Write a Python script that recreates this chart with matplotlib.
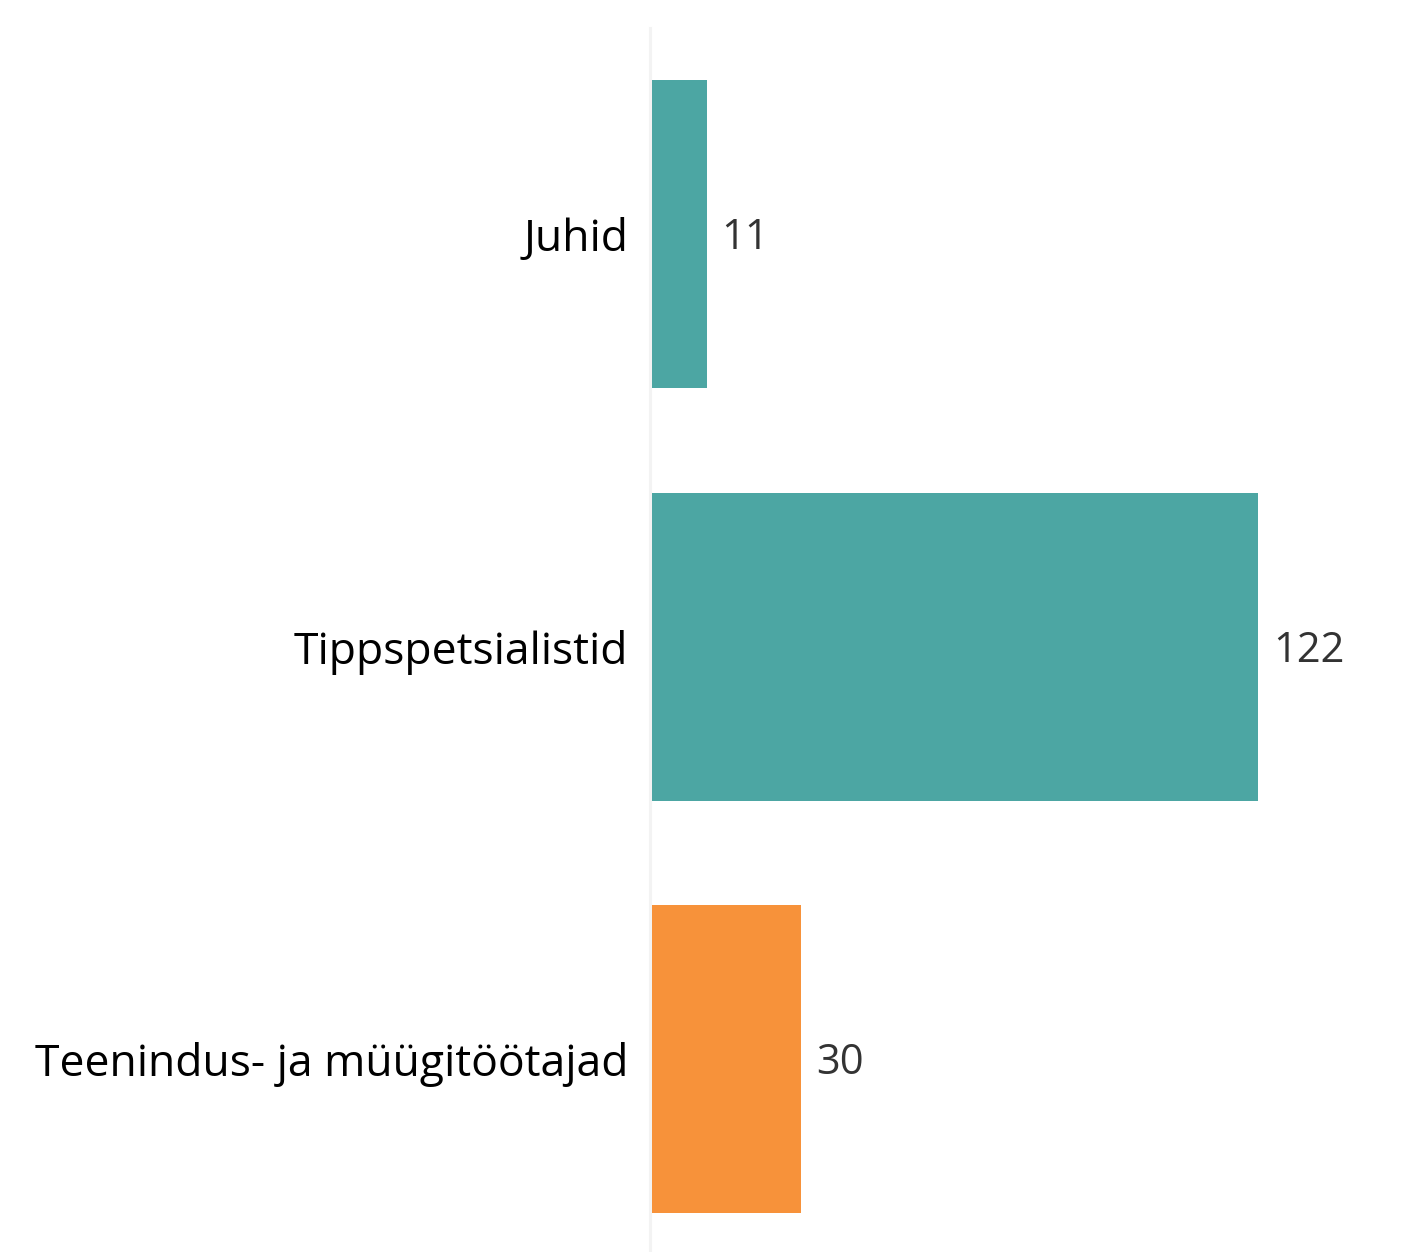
import matplotlib.pyplot as plt

categories = ["Juhid", "Tippspetsialistid", "Teenindus- ja müügitöötajad"]
values = [11, 122, 30]
bar_colors = ["#4CA6A3", "#4CA6A3", "#F7923A"]

plt.rcParams['font.family'] = ['Open Sans', 'DejaVu Sans']

W, H = 1410, 1252
fig = plt.figure(figsize=(W / 100, H / 100), dpi=100)
# axes placed in pixel terms: left edge at 652, top at 28
ax = fig.add_axes([652 / W, 0, 742 / W, (H - 28) / H])

y = list(range(len(categories)))
ax.barh(y, values, height=0.747, color=bar_colors, zorder=3)
ax.set_xlim(0, 149.3)
ax.set_ylim(-0.5 + (H - 28) / 412.5, -0.5)

for yi, v in zip(y, values):
    ax.text(v + 3.0, yi + 0.01, str(v), va='center', ha='left', fontsize=30, color='#333333')

ax.set_yticks(y)
ax.set_yticklabels(categories)
ax.tick_params(axis='y', length=0, pad=15.5, labelsize=32, labelcolor='black')
ax.set_xticks([])

for side in ['top', 'right', 'bottom']:
    ax.spines[side].set_visible(False)
ax.spines['left'].set_color('#f3f3f3')
ax.spines['left'].set_linewidth(2.2)
ax.spines['left'].set_position(('outward', 1.5))

fig.savefig('out.png', dpi=100)
